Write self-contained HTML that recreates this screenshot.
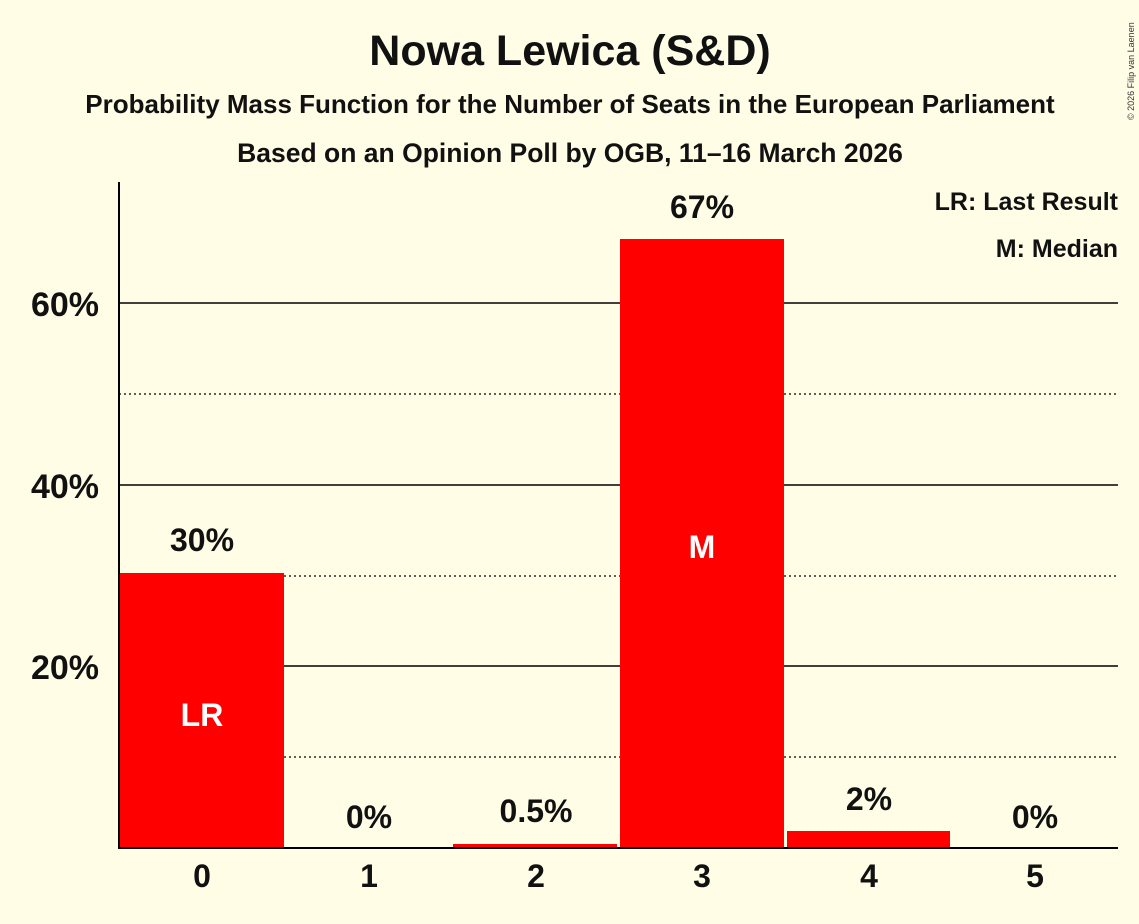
<!DOCTYPE html>
<html><head><meta charset="utf-8"><style>
body{margin:0;background:#fffde6;}
svg{display:block;font-family:"Liberation Sans",sans-serif;font-weight:bold;}
</style></head><body>
<svg width="1139" height="924" viewBox="0 0 1139 924">
<rect width="1139" height="924" fill="#fffde6"/>
<text x="570" y="65" text-anchor="middle" font-size="43" fill="#111">Nowa Lewica (S&amp;D)</text>
<text x="570" y="113" text-anchor="middle" font-size="26" fill="#111">Probability Mass Function for the Number of Seats in the European Parliament</text>
<text x="570" y="162" text-anchor="middle" font-size="26.5" fill="#111">Based on an Opinion Poll by OGB, 11–16 March 2026</text>
<text x="1134" y="120" font-size="9" font-weight="normal" fill="#333" transform="rotate(-90 1134 120)">© 2026 Filip van Laenen</text>
<g stroke="#000" stroke-width="1.2" stroke-dasharray="2,3">
<line x1="119" y1="394" x2="1118" y2="394"/>
<line x1="119" y1="576" x2="1118" y2="576"/>
<line x1="119" y1="757" x2="1118" y2="757"/>
</g>
<g stroke="#000" stroke-width="1.5">
<line x1="119" y1="303" x2="1118" y2="303"/>
<line x1="119" y1="485" x2="1118" y2="485"/>
<line x1="119" y1="666" x2="1118" y2="666"/>
</g>
<g fill="#ff0000">
<rect x="119" y="573" width="165" height="275"/>
<rect x="453" y="844" width="164" height="4"/>
<rect x="620" y="239" width="164" height="609"/>
<rect x="787" y="831" width="163" height="17"/>
</g>
<line x1="119" y1="182" x2="119" y2="849" stroke="#000" stroke-width="2"/>
<line x1="118" y1="848" x2="1118" y2="848" stroke="#000" stroke-width="2"/>
<g font-size="34" fill="#111" text-anchor="end">
<text x="99" y="316">60%</text>
<text x="99" y="498">40%</text>
<text x="99" y="679">20%</text>
</g>
<g font-size="32" fill="#111" text-anchor="middle">
<text x="202" y="887">0</text><text x="369" y="887">1</text><text x="536" y="887">2</text>
<text x="702" y="887">3</text><text x="869" y="887">4</text><text x="1035" y="887">5</text>
</g>
<g font-size="32" fill="#111" text-anchor="middle">
<text x="202" y="551">30%</text><text x="369" y="828">0%</text><text x="536" y="822">0.5%</text>
<text x="702" y="218">67%</text><text x="869" y="810">2%</text><text x="1035" y="828">0%</text>
</g>
<g font-size="32" fill="#fff" text-anchor="middle">
<text x="202" y="726">LR</text><text x="702" y="558">M</text>
</g>
<g font-size="25" fill="#111" text-anchor="end">
<text x="1118" y="210">LR: Last Result</text>
<text x="1118" y="257">M: Median</text>
</g>
</svg>
</body></html>
